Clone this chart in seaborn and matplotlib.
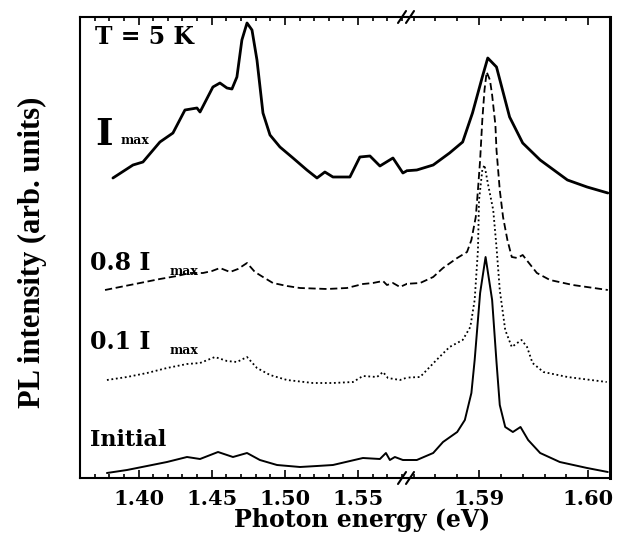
import numpy as np
import pandas as pd
import seaborn as sns
import matplotlib.pyplot as plt
from matplotlib.lines import Line2D
from matplotlib.ticker import MultipleLocator

# Espectros de PL a T = 5 K (energia en eV, intensidad en unidades arbitrarias)
energy_imax = [1.3825, 1.3962, 1.4030, 1.4146, 1.4235, 1.4317, 1.4399, 1.4420,
               1.4508, 1.4556, 1.4604, 1.4638, 1.4672, 1.4706, 1.4741, 1.4775,
               1.4809, 1.4850, 1.4898, 1.4966, 1.5055, 1.5150, 1.5219, 1.5273,
               1.5328, 1.5444, 1.5512, 1.5581, 1.5649, 1.5738, 1.5806, 1.5843,
               1.5858, 1.5873, 1.5885, 1.5894, 1.5903, 1.5908, 1.5916, 1.5928,
               1.5940, 1.5956, 1.5981, 1.5999, 1.6018]
pl_imax = [300, 313, 316, 336, 345, 368, 370, 366,
           391, 395, 390, 389, 401, 438, 455, 448,
           418, 365, 343, 331, 320, 308, 300, 306,
           301, 301, 321, 322, 312, 320, 305, 308,
           313, 325, 336, 365, 401, 420, 411, 361,
           335, 318, 298, 291, 285]

energy_08 = [1.3771, 1.3873, 1.4010, 1.4146, 1.4263, 1.4351, 1.4440, 1.4502,
             1.4556, 1.4625, 1.4679, 1.4741, 1.4795, 1.4850, 1.4918, 1.5014,
             1.5103, 1.5287, 1.5424, 1.5533, 1.5601, 1.5670, 1.5697, 1.5738,
             1.5786, 1.5846, 1.5858, 1.5867, 1.5880, 1.5889, 1.5893, 1.5897,
             1.5899, 1.5901, 1.5903, 1.5905, 1.5907, 1.5910, 1.5912, 1.5915,
             1.5916, 1.5919, 1.5922, 1.5926, 1.5930, 1.5935, 1.5940, 1.5945,
             1.5953, 1.5965, 1.5986, 1.6018]
pl_08 = [188, 191, 195, 199, 202, 205, 205, 207,
         210, 206, 209, 215, 206, 201, 195, 192,
         190, 189, 190, 194, 195, 197, 193, 195,
         191, 195, 201, 210, 220, 226, 238, 261,
         288, 318, 358, 388, 406, 398, 383, 353,
         328, 288, 261, 238, 221, 220, 223, 216,
         205, 198, 193, 188]

energy_01 = [1.3784, 1.3921, 1.4058, 1.4194, 1.4331, 1.4420, 1.4522, 1.4604,
             1.4672, 1.4741, 1.4809, 1.4898, 1.5014, 1.5191, 1.5328, 1.5465,
             1.5533, 1.5629, 1.5670, 1.5704, 1.5786, 1.5846, 1.5861, 1.5873,
             1.5885, 1.5892, 1.5896, 1.5899, 1.5900, 1.5903, 1.5905, 1.5908,
             1.5913, 1.5916, 1.5919, 1.5924, 1.5930, 1.5935, 1.5939, 1.5944,
             1.5949, 1.5959, 1.5981, 1.6017]
pl_01 = [98, 101, 105, 110, 114, 115, 121, 117,
         116, 121, 110, 103, 98, 95, 95, 96,
         102, 101, 106, 100, 98, 101, 118, 131,
         138, 151, 178, 228, 278, 308, 313, 295,
         268, 231, 188, 148, 131, 135, 138, 131,
         115, 106, 101, 96]

energy_init = [1.3784, 1.3921, 1.4058, 1.4194, 1.4331, 1.4420, 1.4543, 1.4645,
               1.4741, 1.4829, 1.4946, 1.5103, 1.5219, 1.5328, 1.5533, 1.5649,
               1.5690, 1.5717, 1.5751, 1.5806, 1.5843, 1.5858, 1.5867, 1.5880,
               1.5887, 1.5893, 1.5896, 1.5901, 1.5906, 1.5912, 1.5916, 1.5919,
               1.5924, 1.5931, 1.5938, 1.5945, 1.5956, 1.5974, 1.5999, 1.6018]
pl_init = [5, 8, 12, 16, 21, 19, 26, 21,
           25, 18, 13, 11, 12, 13, 20, 19,
           25, 18, 21, 18, 18, 25, 36, 46,
           58, 85, 118, 185, 221, 178, 116, 73,
           51, 46, 51, 38, 25, 16, 10, 6]

curve_names = ['Imax', '0.8 Imax', '0.1 Imax', 'Initial']
curve_energy = [energy_imax, energy_08, energy_01, energy_init]
curve_pl = [pl_imax, pl_08, pl_01, pl_init]
curve_ls = ['-', (0, (4, 2)), (0, (1, 1.5)), '-']
curve_lw = [2.0, 1.3, 1.3, 1.4]

# Eje x partido: 1.36-1.5834 y 1.5834-1.602
x_break = 1.5834

sns.set_style("ticks")
plt.rcParams['font.family'] = ['DejaVu Serif']
plt.rcParams['font.weight'] = 'bold'
plt.rcParams['text.color'] = 'black'
plt.rcParams['axes.labelcolor'] = 'black'
plt.rcParams['xtick.color'] = 'black'
plt.rcParams['ytick.color'] = 'black'
plt.rcParams['axes.edgecolor'] = 'black'

fig = plt.figure(figsize=(6.21, 5.33), dpi=100)
ax1 = fig.add_axes([80/621, 55/533, 327/621, 461/533])
ax2 = fig.add_axes([407/621, 55/533, 203/621, 461/533], sharey=ax1)

for ax in (ax1, ax2):
    for name, e, pl, ls, lw in zip(curve_names, curve_energy, curve_pl,
                                   curve_ls, curve_lw):
        df = pd.DataFrame({'E': e, 'PL': pl})
        sns.lineplot(data=df, x='E', y='PL', ax=ax, sort=False,
                     estimator=None, color='black', linewidth=lw,
                     linestyle=ls)
    ax.set_xlabel('')
    ax.set_ylabel('')
    ax.tick_params(axis='x', which='both', direction='in', top=True,
                   bottom=True, labelsize=15, width=1.2, pad=8,
                   colors='black')
    ax.tick_params(axis='x', which='major', length=6)
    ax.tick_params(axis='x', which='minor', length=3)
    ax.tick_params(axis='y', which='both', left=False, right=False,
                   labelleft=False, labelright=False)
    for sp in ax.spines.values():
        sp.set_linewidth(1.5)
        sp.set_color('black')

ax1.set_xlim(1.36, x_break)
ax2.set_xlim(x_break, 1.602)
ax1.set_ylim(0, 461)

ax1.set_xticks([1.40, 1.45, 1.50, 1.55])
ax1.set_xticklabels(['1.40', '1.45', '1.50', '1.55'])
ax1.xaxis.set_minor_locator(MultipleLocator(0.01))
ax2.set_xticks([1.59, 1.60])
ax2.set_xticklabels(['1.59', '1.60'])
ax2.xaxis.set_minor_locator(MultipleLocator(0.002))

ax1.spines['right'].set_visible(False)
ax2.spines['left'].set_visible(False)
ax2.spines['right'].set_linewidth(2.2)

# marcas de corte //
for yb in (17, 478):
    for xb in (402, 410):
        fig.add_artist(Line2D([(xb - 4)/621, (xb + 4)/621],
                              [1 - (yb + 6)/533, 1 - (yb - 6)/533],
                              transform=fig.transFigure, color='black',
                              linewidth=1.5))

# etiquetas de las curvas
t = ax1.transAxes
ax1.text(0.046, 0.957, 'T = 5 K', transform=t, fontsize=17, va='center')
ax1.text(0.046, 0.745, 'I', transform=t, fontsize=27, va='center')
ax1.text(0.125, 0.733, 'max', transform=t, fontsize=9, va='center')
ax1.text(0.030, 0.467, '0.8 I', transform=t, fontsize=17, va='center')
ax1.text(0.275, 0.447, 'max', transform=t, fontsize=9, va='center')
ax1.text(0.030, 0.295, '0.1 I', transform=t, fontsize=17, va='center')
ax1.text(0.275, 0.276, 'max', transform=t, fontsize=9, va='center')
ax1.text(0.030, 0.082, 'Initial', transform=t, fontsize=16, va='center')

fig.text(362/621, 1 - 520/533, 'Photon energy (eV)', fontsize=17,
         ha='center', va='center')
fig.text(32/621, 1 - 252/533, 'PL intensity (arb. units)',
         family='Liberation Serif', fontsize=22, rotation=90,
         ha='center', va='center')

fig.savefig('out.png', dpi=100)
